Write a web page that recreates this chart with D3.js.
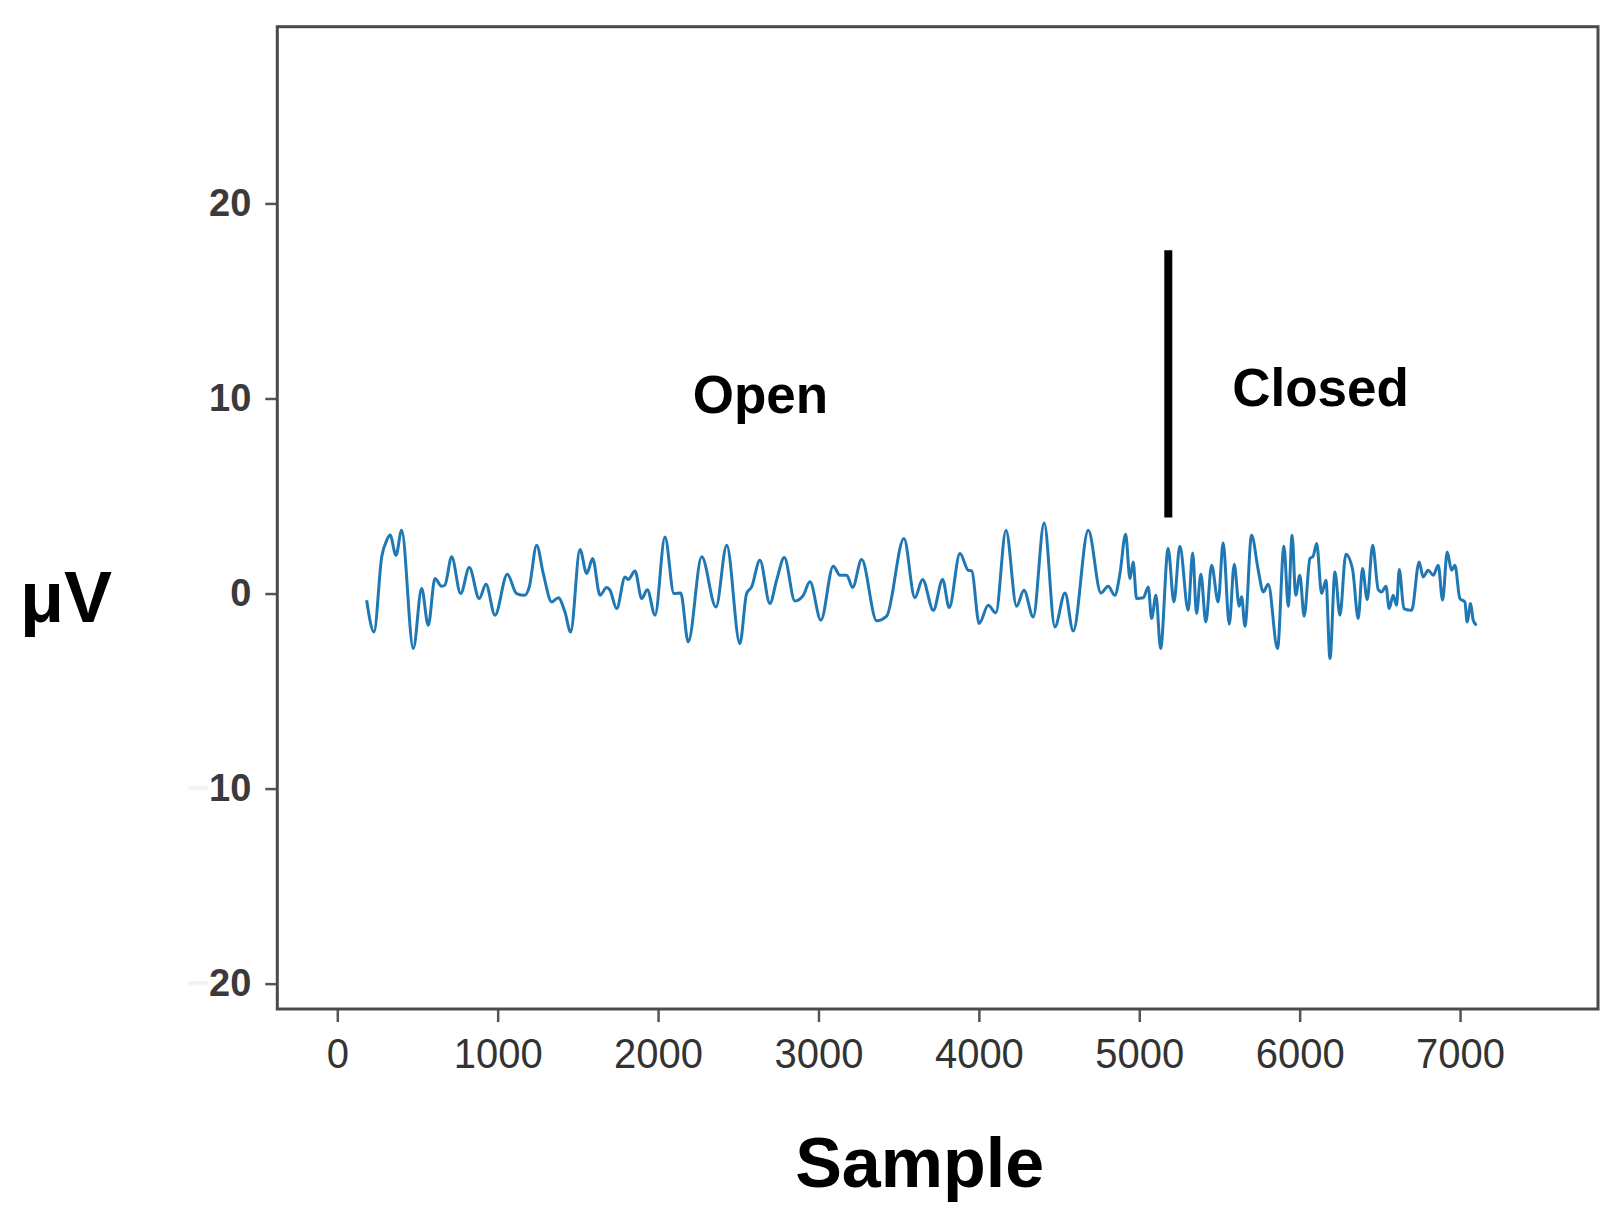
<!DOCTYPE html>
<html>
<head>
<meta charset="utf-8">
<script src="https://cdn.jsdelivr.net/npm/d3@7"></script>
<style>
  body { margin: 0; background: #fff; }
  svg { display: block; }
  text { font-family: "Liberation Sans", Arial, sans-serif; }
</style>
</head>
<body>
<svg id="eeg" width="1619" height="1232"></svg>
<script>
// sample index of each traced vertex
var samples = [183,229,277,308,329,366,401,474,526,567,609,651,671,713,769,823,885,927,983,1060,
  1118,1170,1197,1243,1284,1337,1378,1419,1455,1513,1555,1592,1638,1679,1700,1742,1794,1814,1856,1898,
  1933,1981,2043,2099,2141,2188,2272,2361,2428,2510,2552,2583,2635,2697,2739,2787,2853,2905,2947,3015,
  3092,3134,3176,3213,3269,3363,3425,3533,3601,3649,3716,3774,3815,3882,3934,3955,4002,4058,4106,4169,
  4235,4281,4339,4407,4474,4537,4588,4682,4761,4806,4848,4879,4915,4942,4962,4983,5025,5056,5077,5104,
  5133,5180,5216,5253,5305,5333,5357,5384,5415,5451,5492,5523,5561,5592,5623,5638,5659,5700,5742,5773,
  5804,5862,5902,5929,5953,5975,6001,6028,6064,6084,6106,6137,6164,6189,6220,6251,6288,6330,6365,6392,
  6421,6455,6490,6511,6538,6558,6583,6604,6621,6650,6698,6745,6770,6801,6833,6864,6891,6920,6947,6968,
  6999,7030,7044,7066,7082,7103];

// amplitude in µV
var microvolts = [-0.34,-1.97,1.88,2.73,3.0,1.96,3.25,-2.82,0.26,-1.63,0.77,0.37,0.43,1.88,0,1.33,-0.26,0.48,-1.11,0.99,
  0,-0.09,0.34,2.48,1.03,-0.43,-0.21,-0.94,-1.97,2.26,1.03,1.79,-0.09,0.31,0.17,-0.77,0.85,0.72,1.16,-0.26,
  0.2,-1.11,2.9,0,0.03,-2.48,1.88,-0.69,2.48,-2.56,0,0.34,1.71,-0.51,0.68,1.85,-0.38,-0.09,0.6,-1.37,
  1.4,0.94,0.94,0.31,1.74,-1.4,-1.16,2.82,-0.21,0.72,-0.86,0.72,-0.72,2.05,1.19,1.16,-1.54,-0.6,-0.99,3.25,
  -0.65,0.17,-1.2,3.62,-1.71,0.03,-1.92,3.25,0.03,0.37,-0.09,0.99,3.04,0.77,1.62,-0.26,-0.22,0.34,-1.28,-0.09,
  -2.82,2.31,-0.43,2.43,-0.86,2.08,-1.03,0.99,-1.46,1.45,-0.43,2.6,-1.57,1.5,-0.65,-0.17,-1.68,2.99,1.19,0.08,
  0.48,-2.82,2.43,-0.65,2.99,-0.09,0.94,-1.16,1.79,1.91,2.56,0,0.68,-3.33,1.11,-1.11,2.02,1.23,-1.28,1.28,
  -0.31,2.48,0.2,0.08,0.37,-0.77,-0.09,-0.6,1.23,-0.77,-0.86,1.62,0.85,1.19,0.94,1.45,-0.34,2.13,1.19,1.45,
  -0.26,-0.43,-1.46,-0.51,-1.37,-1.63];

var xTicks = [0, 1000, 2000, 3000, 4000, 5000, 6000, 7000];
var yTicks = [-20, -10, 0, 10, 20];

// eyes open / closed boundary and its labels
var boundarySample = 5181;
var boundaryRange = [3.9, 17.6];
var phaseNames = ["Open", "Closed"];
var phaseSamples = [2638, 6130];
var phaseValues = [9.25, 9.6];

var svg = d3.select("#eeg");

var plotLeft = 277.3, plotRight = 1598, plotTop = 26.7, plotBottom = 1009;

var x = d3.scaleLinear().domain([-374, 7860]).range([plotLeft, plotRight]);
var y = d3.scaleLinear().domain([-21.3, 29.06]).range([plotBottom, plotTop]);

// y axis (minus signs are nearly washed out in the original)
svg.append("g")
  .attr("transform", "translate(" + plotLeft + ",0)")
  .call(d3.axisLeft(y).tickValues(yTicks).tickSize(12).tickPadding(14))
  .call(g => g.select(".domain").remove())
  .call(g => g.selectAll(".tick line").attr("stroke", "#555").attr("stroke-width", 2.5))
  .call(g => g.selectAll(".tick text")
    .text(null)
    .attr("font-family", "Liberation Sans, Arial, sans-serif")
    .attr("font-size", 38)
    .attr("font-weight", "bold")
    .attr("fill", "#3a3a3a")
    .each(function(d) {
      var t = d3.select(this);
      if (d < 0) t.append("tspan").attr("fill", "#f3f3f3").text("\u2212");
      t.append("tspan").text(Math.abs(d));
    }));

// x axis, condensed labels
svg.append("g")
  .attr("transform", "translate(0," + plotBottom + ")")
  .call(d3.axisBottom(x).tickValues(xTicks).tickFormat(d3.format("d")).tickSize(13).tickPadding(15))
  .call(g => g.select(".domain").remove())
  .call(g => g.selectAll(".tick line").attr("stroke", "#555").attr("stroke-width", 2.5))
  .call(g => g.selectAll(".tick text")
    .attr("font-family", "Liberation Sans, Arial, sans-serif")
    .attr("font-size", 43)
    .attr("fill", "#333")
    .attr("transform", "scale(0.93,1)"));

// frame
svg.append("rect")
  .attr("x", plotLeft).attr("y", plotTop)
  .attr("width", plotRight - plotLeft).attr("height", plotBottom - plotTop)
  .attr("fill", "none")
  .attr("stroke", "#4a4a4a")
  .attr("stroke-width", 3);

// signal
var line = d3.line()
  .x(d => x(d[0]))
  .y(d => y(d[1]))
  .curve(d3.curveMonotoneX);

svg.append("path")
  .datum(d3.zip(samples, microvolts))
  .attr("fill", "none")
  .attr("stroke", "#1f77b4")
  .attr("stroke-width", 3)
  .attr("stroke-linejoin", "round")
  .attr("d", line);

// boundary marker
svg.append("line")
  .attr("x1", x(boundarySample)).attr("x2", x(boundarySample))
  .attr("y1", y(boundaryRange[0])).attr("y2", y(boundaryRange[1]))
  .attr("stroke", "#000")
  .attr("stroke-width", 8);

svg.selectAll(".phase")
  .data(phaseNames)
  .enter()
  .append("text")
    .attr("class", "phase")
    .attr("x", (d, i) => x(phaseSamples[i]))
    .attr("y", (d, i) => y(phaseValues[i]))
    .attr("text-anchor", "middle")
    .attr("font-size", 53)
    .attr("font-weight", "bold")
    .text(d => d);

// axis titles
svg.append("text")
  .attr("x", (plotLeft + plotRight) / 2 - 18)
  .attr("y", 1187)
  .attr("text-anchor", "middle")
  .attr("font-size", 70)
  .attr("font-weight", "bold")
  .text("Sample");

svg.append("text")
  .attr("x", 20)
  .attr("y", 622)
  .attr("font-size", 72)
  .attr("font-weight", "bold")
  .text("\u03bcV");
</script>
</body>
</html>
